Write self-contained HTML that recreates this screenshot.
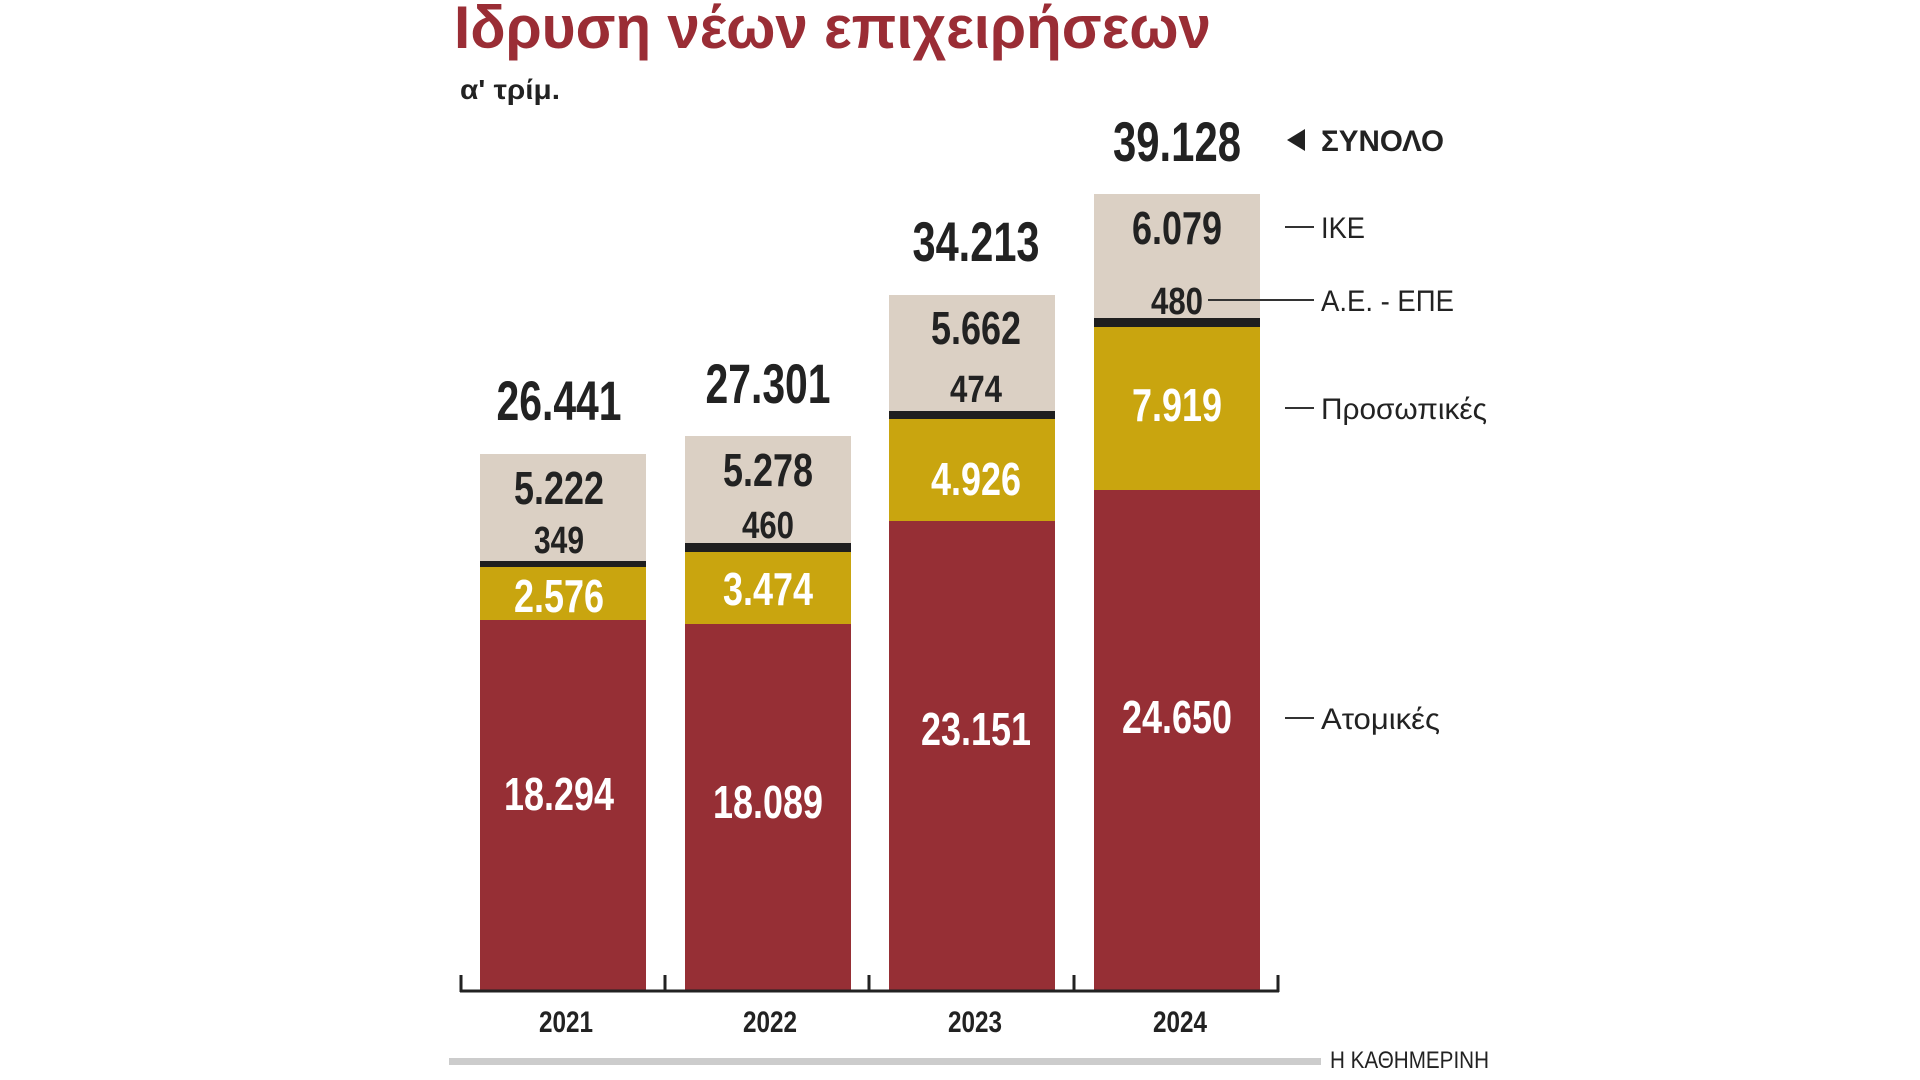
<!DOCTYPE html>
<html><head><meta charset="utf-8"><style>
html,body{margin:0;padding:0;background:#fff;}
svg{display:block;}
text{font-family:"Liberation Sans","DejaVu Sans",sans-serif;}
</style></head><body>
<svg width="1920" height="1080" viewBox="0 0 1920 1080" xmlns="http://www.w3.org/2000/svg">
<g transform="translate(-3,-2)">
<text x="457" y="50" font-size="60" font-weight="bold" fill="#9a2d35" textLength="757" lengthAdjust="spacingAndGlyphs">Ιδρυση νέων επιχειρήσεων</text>
<text x="463" y="101" font-size="28" font-weight="bold" fill="#222" textLength="100" lengthAdjust="spacingAndGlyphs">α' τρίμ.</text>

<g>
<rect x="483" y="456" width="166" height="107" fill="#dbd0c4"/>
<rect x="483" y="563" width="166" height="6" fill="#1f1f1f"/>
<rect x="483" y="569" width="166" height="53" fill="#c9a50f"/>
<rect x="483" y="622" width="166" height="371" fill="#962f35"/>

<rect x="688" y="438" width="166" height="107" fill="#dbd0c4"/>
<rect x="688" y="545" width="166" height="9" fill="#1f1f1f"/>
<rect x="688" y="554" width="166" height="72" fill="#c9a50f"/>
<rect x="688" y="626" width="166" height="367" fill="#962f35"/>

<rect x="892" y="297" width="166" height="116" fill="#dbd0c4"/>
<rect x="892" y="413" width="166" height="9" fill="#1f1f1f"/>
<rect x="892" y="421" width="166" height="102" fill="#c9a50f"/>
<rect x="892" y="523" width="166" height="470" fill="#962f35"/>

<rect x="1097" y="196" width="166" height="124" fill="#dbd0c4"/>
<rect x="1097" y="320" width="166" height="9" fill="#1f1f1f"/>
<rect x="1097" y="329" width="166" height="163" fill="#c9a50f"/>
<rect x="1097" y="492" width="166" height="501" fill="#962f35"/>
</g>

<g stroke="#222" stroke-width="3" fill="none">
<line x1="463" y1="993" x2="1282" y2="993"/>
<line x1="464" y1="977" x2="464" y2="994"/>
<line x1="668" y1="977" x2="668" y2="994"/>
<line x1="872" y1="977" x2="872" y2="994"/>
<line x1="1077" y1="977" x2="1077" y2="994"/>
<line x1="1281" y1="977" x2="1281" y2="994"/>
</g>

<g font-weight="bold" text-anchor="middle" fill="#222" font-size="30">
<text x="569" y="1034" textLength="54" lengthAdjust="spacingAndGlyphs">2021</text>
<text x="773" y="1034" textLength="54" lengthAdjust="spacingAndGlyphs">2022</text>
<text x="978" y="1034" textLength="54" lengthAdjust="spacingAndGlyphs">2023</text>
<text x="1183" y="1034" textLength="54" lengthAdjust="spacingAndGlyphs">2024</text>
</g>

<g font-weight="bold" text-anchor="middle" fill="#222" font-size="56">
<text x="562" y="422" textLength="125" lengthAdjust="spacingAndGlyphs">26.441</text>
<text x="771" y="405" textLength="125" lengthAdjust="spacingAndGlyphs">27.301</text>
<text x="979" y="263" textLength="127" lengthAdjust="spacingAndGlyphs">34.213</text>
<text x="1180" y="163" textLength="128" lengthAdjust="spacingAndGlyphs">39.128</text>
</g>

<g font-weight="bold" text-anchor="middle" font-size="46">
<text x="562" y="506" fill="#222" textLength="90" lengthAdjust="spacingAndGlyphs">5.222</text>
<text x="562" y="555" fill="#222" font-size="38" textLength="50" lengthAdjust="spacingAndGlyphs">349</text>
<text x="562" y="614" fill="#fff" textLength="90" lengthAdjust="spacingAndGlyphs">2.576</text>
<text x="562" y="812" fill="#fff" textLength="110" lengthAdjust="spacingAndGlyphs">18.294</text>

<text x="771" y="488" fill="#222" textLength="90" lengthAdjust="spacingAndGlyphs">5.278</text>
<text x="771" y="540" fill="#222" font-size="38" textLength="52" lengthAdjust="spacingAndGlyphs">460</text>
<text x="771" y="607" fill="#fff" textLength="90" lengthAdjust="spacingAndGlyphs">3.474</text>
<text x="771" y="820" fill="#fff" textLength="110" lengthAdjust="spacingAndGlyphs">18.089</text>

<text x="979" y="346" fill="#222" textLength="90" lengthAdjust="spacingAndGlyphs">5.662</text>
<text x="979" y="404" fill="#222" font-size="38" textLength="52" lengthAdjust="spacingAndGlyphs">474</text>
<text x="979" y="497" fill="#fff" textLength="90" lengthAdjust="spacingAndGlyphs">4.926</text>
<text x="979" y="747" fill="#fff" textLength="110" lengthAdjust="spacingAndGlyphs">23.151</text>

<text x="1180" y="246" fill="#222" textLength="90" lengthAdjust="spacingAndGlyphs">6.079</text>
<text x="1180" y="316" fill="#222" font-size="38" textLength="52" lengthAdjust="spacingAndGlyphs">480</text>
<text x="1180" y="423" fill="#fff" textLength="90" lengthAdjust="spacingAndGlyphs">7.919</text>
<text x="1180" y="735" fill="#fff" textLength="110" lengthAdjust="spacingAndGlyphs">24.650</text>
</g>

<g stroke="#333" stroke-width="2">
<line x1="1288" y1="229" x2="1317" y2="229"/>
<line x1="1211" y1="302" x2="1317" y2="302"/>
<line x1="1288" y1="410" x2="1317" y2="410"/>
<line x1="1288" y1="720" x2="1317" y2="720"/>
</g>
<g font-size="30" fill="#222">
<text x="1324" y="240" textLength="44" lengthAdjust="spacingAndGlyphs">ΙΚΕ</text>
<text x="1324" y="313" textLength="133" lengthAdjust="spacingAndGlyphs">Α.Ε. - ΕΠΕ</text>
<text x="1324" y="421" textLength="166" lengthAdjust="spacingAndGlyphs">Προσωπικές</text>
<text x="1324" y="731" textLength="119" lengthAdjust="spacingAndGlyphs">Ατομικές</text>
</g>
<polygon points="1290,142 1308,131 1308,153" fill="#222"/>
<text x="1324" y="153" font-size="30" font-weight="bold" fill="#222" textLength="123" lengthAdjust="spacingAndGlyphs">ΣΥΝΟΛΟ</text>

<rect x="452" y="1060" width="872" height="7" fill="#cccccc"/>
<text x="1333" y="1070" font-family="Liberation Serif, serif" font-size="24" fill="#222" textLength="159" lengthAdjust="spacingAndGlyphs">Η ΚΑΘΗΜΕΡΙΝΗ</text>
</g>
</svg>
</body></html>
